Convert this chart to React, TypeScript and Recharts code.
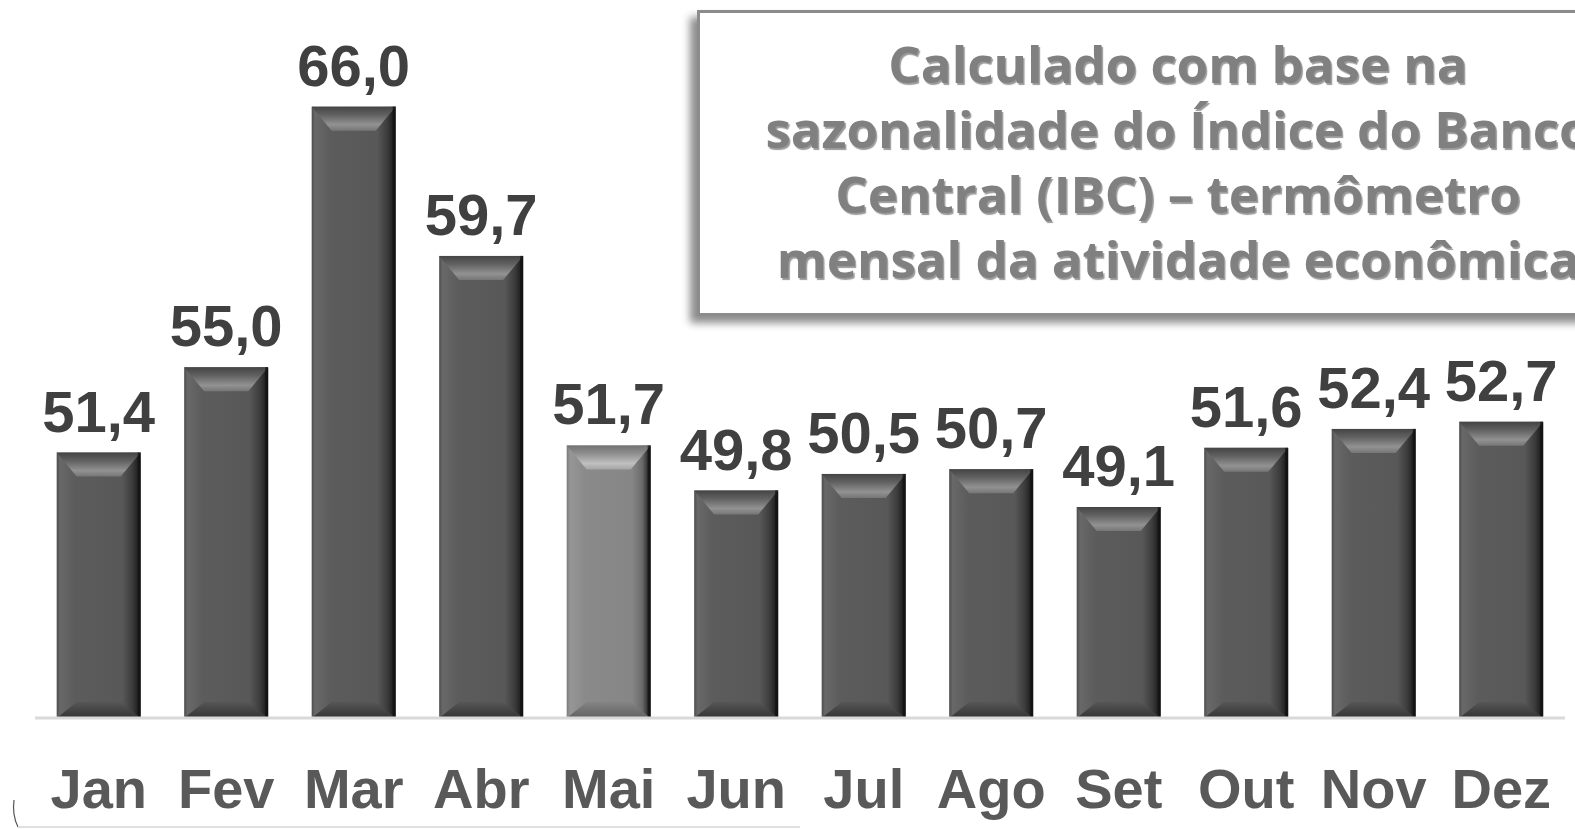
import React from "react";
import { Bar, BarChart, LabelList, XAxis, YAxis } from "recharts";

const MONTHS = ["Jan", "Fev", "Mar", "Abr", "Mai", "Jun", "Jul", "Ago", "Set", "Out", "Nov", "Dez"];
const VALUES = [51.4, 55.0, 66.0, 59.7, 51.7, 49.8, 50.5, 50.7, 49.1, 51.6, 52.4, 52.7];
const HIGHLIGHT = "Mai";
const NOTE_LINES = [
  "Calculado com base na",
  "sazonalidade do Índice do Banco",
  "Central (IBC) – termômetro",
  "mensal da atividade econômica",
];

const data = MONTHS.map((m, i) => ({ month: m, value: VALUES[i] }));

const W = 1575;
const H = 829;

function shade(v: number, d: number) {
  const c = Math.max(0, Math.min(255, v + d));
  const hex = c.toString(16).padStart(2, "0");
  return `#${hex}${hex}${hex}`;
}

function BevelBar(props: any) {
  const { x, y, width: w, height: h, index, payload } = props;
  if (!h || h <= 0) return null;
  const d = payload.month === HIGHLIGHT ? 46 : 0;
  const id = `bar${index}`;
  const side = Math.min(20, w / 4);
  const top = Math.min(24, h / 3);
  const bot = Math.min(16, h / 4);
  return (
    <g>
      <defs>
        <linearGradient id={`${id}h`} x1="0" x2="1" y1="0" y2="0">
          <stop offset="0" stopColor={shade(0x4c, d)} />
          <stop offset="0.04" stopColor={shade(0x68, d)} />
          <stop offset="0.22" stopColor={shade(0x5c, d)} />
          <stop offset="0.78" stopColor={shade(0x58, d)} />
          <stop offset="0.9" stopColor={shade(0x3c, d)} />
          <stop offset="1" stopColor="#141414" />
        </linearGradient>
        <linearGradient id={`${id}t`} x1="0" x2="0" y1="0" y2="1">
          <stop offset="0" stopColor={shade(0x44, d)} />
          <stop offset="0.35" stopColor={shade(0x62, d)} />
          <stop offset="0.75" stopColor={shade(0x92, d)} />
          <stop offset="1" stopColor={shade(0x76, d)} />
        </linearGradient>
        <linearGradient id={`${id}b`} x1="0" x2="0" y1="0" y2="1">
          <stop offset="0" stopColor={shade(0x56, d)} />
          <stop offset="1" stopColor={shade(0x34, d)} />
        </linearGradient>
      </defs>
      <rect x={x} y={y} width={w} height={h} fill={`url(#${id}h)`} />
      <polygon
        points={`${x},${y} ${x + w},${y} ${x + w - side},${y + top} ${x + side},${y + top}`}
        fill={`url(#${id}t)`}
      />
      <polygon
        points={`${x},${y + h} ${x + w},${y + h} ${x + w - side},${y + h - bot} ${x + side},${y + h - bot}`}
        fill={`url(#${id}b)`}
      />
      <rect x={x + w - 3} y={y} width={3} height={h} fill="#111" opacity={0.7} />
    </g>
  );
}

function MonthTick(props: any) {
  const { x, y, payload } = props;
  return (
    <text
      x={x}
      y={y + 82}
      textAnchor="middle"
      fill="#595959"
      fontSize={56}
      fontWeight="bold"
      fontFamily="'Liberation Sans', Arial, sans-serif"
    >
      {payload.value}
    </text>
  );
}

export default function App() {
  return (
    <div
      style={{
        position: "absolute",
        left: 0,
        top: 0,
        width: W,
        height: H,
        overflow: "hidden",
        background: "#fff",
      }}
    >
      <BarChart
        width={W}
        height={H}
        data={data}
        margin={{ top: 0, right: 10, left: 35, bottom: 31 }}
        barCategoryGap="17%"
      >
        <XAxis
          dataKey="month"
          axisLine={{ stroke: "#d9d9d9", strokeWidth: 3 }}
          tickLine={false}
          height={80}
          tick={<MonthTick />}
          interval={0}
        />
        <YAxis hide domain={[40.2, 70.5]} />
        <Bar dataKey="value" shape={<BevelBar />} isAnimationActive={false}>
          <LabelList
            dataKey="value"
            position="top"
            offset={21}
            formatter={(v: any) => Number(v).toFixed(1).replace(".", ",")}
            fill="#404040"
            fontSize={58}
            fontWeight="bold"
            fontFamily="'Liberation Sans', Arial, sans-serif"
          />
        </Bar>
      </BarChart>

      <div
        style={{
          position: "absolute",
          left: 697,
          top: 10,
          width: 956,
          height: 300,
          border: "3px solid #8c8c8c",
          background: "#fff",
          boxShadow: "-7px 7px 8px rgba(0,0,0,0.45)",
          boxSizing: "content-box",
        }}
      >
        <div
          style={{
            paddingTop: 18,
            textAlign: "center",
            fontFamily: "'Open Sans', sans-serif",
            fontWeight: 700,
            fontSize: 51,
            lineHeight: "65px",
            color: "#808080",
            textShadow: "1.5px 1.5px 1px rgba(0,0,0,0.4)",
            whiteSpace: "nowrap",
          }}
        >
          {NOTE_LINES.map((l) => (
            <div key={l}>{l}</div>
          ))}
        </div>
      </div>

      <svg
        width={W}
        height={H}
        style={{ position: "absolute", left: 0, top: 0, pointerEvents: "none" }}
      >
        <path d="M14,800 Q12,815 18,827" fill="none" stroke="#555" strokeWidth={1.2} />
        <path d="M18,827 L800,827" fill="none" stroke="#e0e0e0" strokeWidth={2} />
      </svg>
    </div>
  );
}
